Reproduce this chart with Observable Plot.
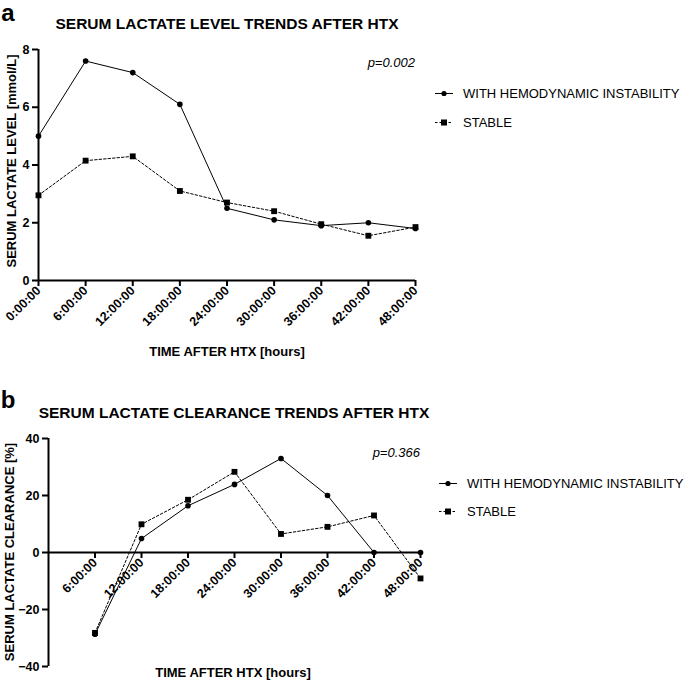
<!DOCTYPE html>
<html>
<head>
<meta charset="utf-8">
<script src="https://cdn.jsdelivr.net/npm/d3@7"></script>
<script src="https://cdn.jsdelivr.net/npm/@observablehq/plot@0.6"></script>
<style>
  body { margin: 0; background: #fff; font-family: "Liberation Sans", Arial, sans-serif; color: #000; }
  #wrap { position: relative; width: 685px; height: 680px; overflow: hidden; }
  .abs { position: absolute; white-space: nowrap; line-height: 1.1; }
  .ctr { transform: translate(-50%, -50%); }
  .plot { position: absolute; left: 0; }
  .legrow { position: absolute; display: flex; align-items: center; font-size: 13px; white-space: nowrap; transform: translateY(-50%); }
  .legrow svg { margin-right: 10px; }
</style>
</head>
<body>
<div id="wrap"></div>
<script>
// ---------- data ----------
const levelHours = [0, 6, 12, 18, 24, 30, 36, 42, 48];
const levelInstability = [5.0, 7.6, 7.2, 6.1, 2.5, 2.1, 1.9, 2.0, 1.8];
const levelStable = [2.95, 4.15, 4.3, 3.1, 2.7, 2.4, 1.95, 1.55, 1.85];
const levelYTicks = [0, 2, 4, 6, 8];

const clearanceHours = [6, 12, 18, 24, 30, 36, 42, 48];
const clearanceInstability = [-28.7, 4.9, 16.4, 23.9, 33, 20, 0, 0];
const clearanceStable = [-28.2, 9.9, 18.5, 28.3, 6.5, 9.0, 13, -9.1];
const clearanceYTicks = [-40, -20, 0, 20, 40];

const seriesNames = ["WITH HEMODYNAMIC INSTABILITY", "STABLE"];
const titleA = "SERUM LACTATE LEVEL TRENDS AFTER HTX";
const titleB = "SERUM LACTATE CLEARANCE TRENDS AFTER HTX";
const yLabelA = "SERUM LACTATE LEVEL [mmol/L]";
const yLabelB = "SERUM LACTATE CLEARANCE [%]";
const xLabel = "TIME AFTER HTX [hours]";
const pA = "p=0.002";
const pB = "p=0.366";

const fmtHour = h => `${h}:00:00`;

const tableA = levelHours.map((h, i) => ({h, inst: levelInstability[i], stab: levelStable[i]}));
const tableB = clearanceHours.map((h, i) => ({h, inst: clearanceInstability[i], stab: clearanceStable[i]}));

const wrap = document.getElementById("wrap");
const FONT = '"Liberation Sans", Arial, sans-serif';

function addText(txt, x, y, css) {
  const d = document.createElement("div");
  d.className = "abs ctr";
  d.textContent = txt;
  d.style.left = x + "px";
  d.style.top = y + "px";
  Object.assign(d.style, css || {});
  wrap.appendChild(d);
  return d;
}

function seriesMarks(data) {
  return [
    Plot.line(data, {x: "h", y: "stab", stroke: "#000", strokeWidth: 1, strokeDasharray: "2.5,2"}),
    Plot.line(data, {x: "h", y: "inst", stroke: "#000", strokeWidth: 1}),
    Plot.dot(data, {x: "h", y: "stab", symbol: "square", fill: "#000", r: 3.3}),
    Plot.dot(data, {x: "h", y: "inst", symbol: "circle", fill: "#000", r: 2.8})
  ];
}

const plotStyle = {fontFamily: FONT, fontSize: "12px", fontWeight: "bold", background: "transparent", color: "#000", overflow: "visible"};
const TICKFS = 12.5;

// ---------- panel a ----------
const A = {width: 430, height: 340, mt: 49, mb: 60, ml: 38, mr: 15};
const plotA = Plot.plot({
  width: A.width, height: A.height,
  marginTop: A.mt, marginBottom: A.mb, marginLeft: A.ml, marginRight: A.mr,
  style: plotStyle,
  x: {domain: [0, 48]},
  y: {domain: [0, 8]},
  marks: [
    Plot.axisY({ticks: levelYTicks, tickSize: 6, tickPadding: 3, strokeWidth: 2, label: null, fontSize: TICKFS, fontWeight: "bold"}),
    Plot.axisX({ticks: levelHours, tickFormat: fmtHour, tickRotate: -45, tickSize: 6, tickPadding: 2, strokeWidth: 2, label: null, fontSize: TICKFS, fontWeight: "bold"}),
    Plot.ruleX([0], {strokeWidth: 2}),
    Plot.ruleY([0], {strokeWidth: 2}),
    ...seriesMarks(tableA)
  ]
});
plotA.classList.add("plot");
plotA.style.top = "0px";
wrap.appendChild(plotA);

// ---------- panel b ----------
const B = {width: 430, height: 340, mt: 98, mb: 14, ml: 48, mr: 10, top: 340};
const zeroOffset = (B.height - B.mt - B.mb) / 2; // distance from frame bottom to y=0
const plotB = Plot.plot({
  width: B.width, height: B.height,
  marginTop: B.mt, marginBottom: B.mb, marginLeft: B.ml, marginRight: B.mr,
  style: plotStyle,
  x: {domain: [0, 48]},
  y: {domain: [-40, 40]},
  marks: [
    Plot.axisY({ticks: clearanceYTicks, tickSize: 6, tickPadding: 3, strokeWidth: 2, label: null, fontSize: TICKFS, fontWeight: "bold"}),
    Plot.axisX({anchor: "bottom", ticks: clearanceHours, tickFormat: fmtHour, tickRotate: -45, tickSize: 6, tickPadding: 2, strokeWidth: 2, label: null, fontSize: TICKFS, fontWeight: "bold", dy: -zeroOffset}),
    Plot.ruleX([0], {strokeWidth: 2}),
    Plot.ruleY([0], {strokeWidth: 2}),
    ...seriesMarks(tableB)
  ]
});
plotB.classList.add("plot");
plotB.style.top = B.top + "px";
wrap.appendChild(plotB);

// ---------- texts ----------
addText("a", 8, 13, {fontSize: "24px", fontWeight: "bold"});
addText("b", 8, 400, {fontSize: "24px", fontWeight: "bold"});
addText(titleA, 227, 24, {fontSize: "15.5px", fontWeight: "bold"});
addText(titleB, 234, 413, {fontSize: "15.5px", fontWeight: "bold"});
addText(xLabel, 227, 352, {fontSize: "13px", fontWeight: "bold"});
addText(xLabel, 233, 673, {fontSize: "13px", fontWeight: "bold"});
addText(yLabelA, 12, 161, {fontSize: "13px", fontWeight: "bold", transform: "translate(-50%,-50%) rotate(-90deg)"});
addText(yLabelB, 10, 552, {fontSize: "13px", fontWeight: "bold", transform: "translate(-50%,-50%) rotate(-90deg)"});
addText(pA, 415, 63, {fontSize: "13px", fontStyle: "italic", transform: "translate(-100%,-50%)"});
addText(pB, 420, 453, {fontSize: "13px", fontStyle: "italic", transform: "translate(-100%,-50%)"});

// ---------- legends ----------
function legendRow(x, y, name, dashed, square) {
  const row = document.createElement("div");
  row.className = "legrow";
  row.style.left = x + "px";
  row.style.top = y + "px";
  const ns = "http://www.w3.org/2000/svg";
  const svg = document.createElementNS(ns, "svg");
  svg.setAttribute("width", 18); svg.setAttribute("height", 10);
  const ln = document.createElementNS(ns, "line");
  ln.setAttribute("x1", 0); ln.setAttribute("x2", 18); ln.setAttribute("y1", 5); ln.setAttribute("y2", 5);
  ln.setAttribute("stroke", "#000"); ln.setAttribute("stroke-width", 1);
  if (dashed) ln.setAttribute("stroke-dasharray", "2.5,2");
  svg.appendChild(ln);
  if (square) {
    const r = document.createElementNS(ns, "rect");
    r.setAttribute("x", 6); r.setAttribute("y", 2); r.setAttribute("width", 6); r.setAttribute("height", 6);
    svg.appendChild(r);
  } else {
    const c = document.createElementNS(ns, "circle");
    c.setAttribute("cx", 9); c.setAttribute("cy", 5); c.setAttribute("r", 2.6);
    svg.appendChild(c);
  }
  row.appendChild(svg);
  const t = document.createElement("span");
  t.textContent = name;
  row.appendChild(t);
  wrap.appendChild(row);
}
legendRow(435, 93, seriesNames[0], false, false);
legendRow(435, 122, seriesNames[1], true, true);
legendRow(439, 483, seriesNames[0], false, false);
legendRow(439, 511, seriesNames[1], true, true);
</script>
</body>
</html>
